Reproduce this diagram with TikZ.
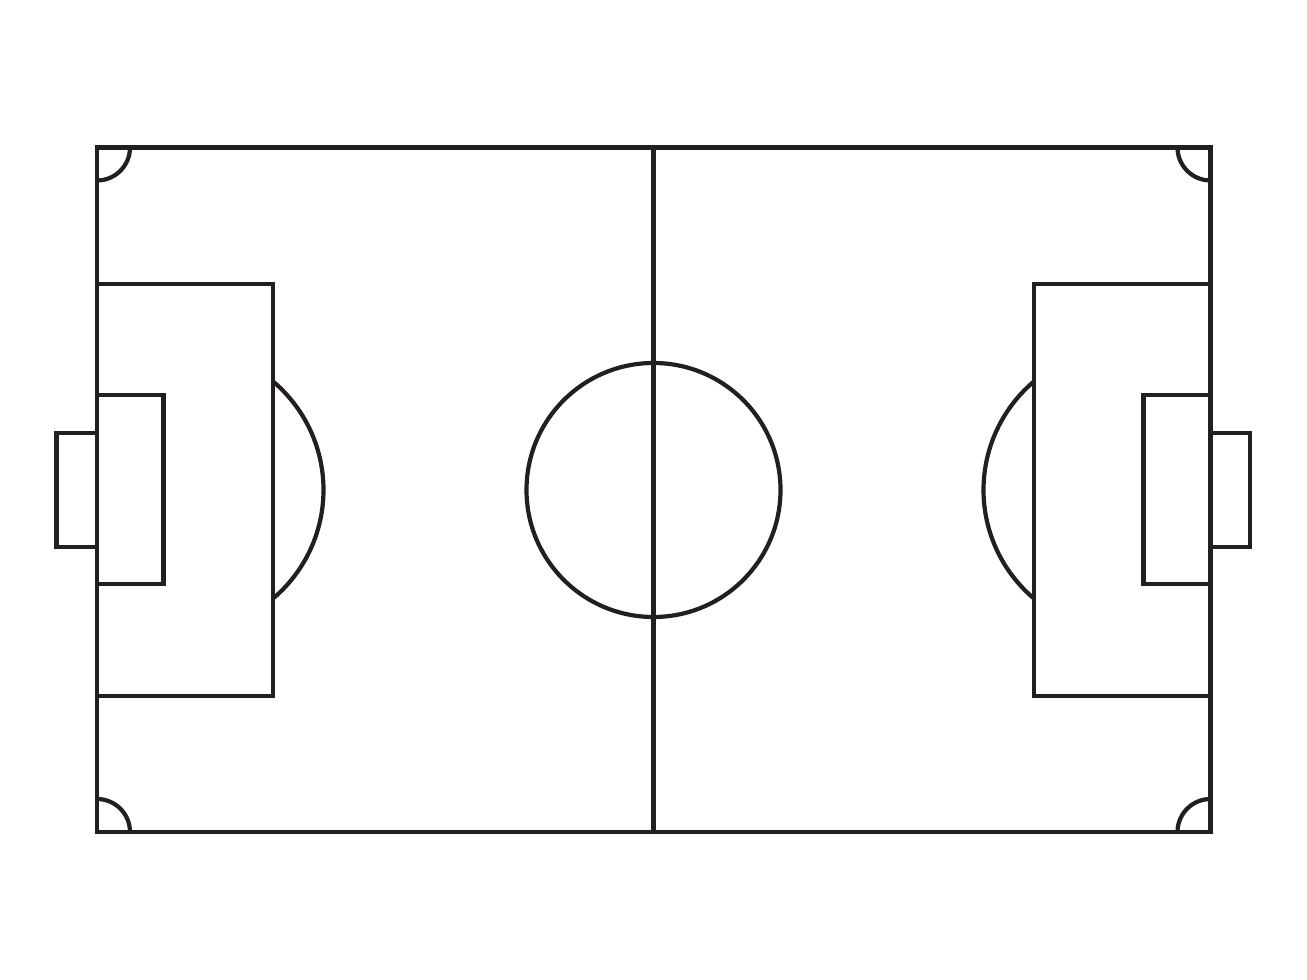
\documentclass[tikz,border=0pt]{standalone}
\definecolor{linec}{HTML}{231F20}
\begin{document}
\begin{tikzpicture}[x=0.5pt,y=0.5pt,
  fieldline/.style={draw=linec,line width=2.1pt,line join=miter}]
\useasboundingbox[fill=white] (0,0) rectangle (1307,980);
% outer boundary
\draw[fieldline] (97,148) rectangle (1210.5,832.5);
% halfway line
\draw[fieldline] (653.5,148) -- (653.5,832.5);
% centre circle
\draw[fieldline] (653.5,490) circle[radius=127];
% left side
\draw[fieldline] (97,284) rectangle (273,696);
\draw[fieldline] (97,396) rectangle (163.5,585);
\draw[fieldline] (56.5,433.3) rectangle (97,547.3);
\draw[fieldline] (181.5,490) ++(-49.9:142) arc[start angle=-49.9,end angle=49.9,radius=142];
% right side
\draw[fieldline] (1034,284) rectangle (1210.5,696);
\draw[fieldline] (1143.5,396) rectangle (1210.5,585);
\draw[fieldline] (1210.5,433.3) rectangle (1250,547.3);
\draw[fieldline] (1125.5,490) ++(130.1:142) arc[start angle=130.1,end angle=229.9,radius=142];
% corner arcs
\draw[fieldline] (97,832.5) ++(-90:33) arc[start angle=-90,end angle=0,radius=33];
\draw[fieldline] (1210.5,832.5) ++(180:33) arc[start angle=180,end angle=270,radius=33];
\draw[fieldline] (97,148) ++(0:33) arc[start angle=0,end angle=90,radius=33];
\draw[fieldline] (1210.5,148) ++(90:33) arc[start angle=90,end angle=180,radius=33];
\end{tikzpicture}
\end{document}
